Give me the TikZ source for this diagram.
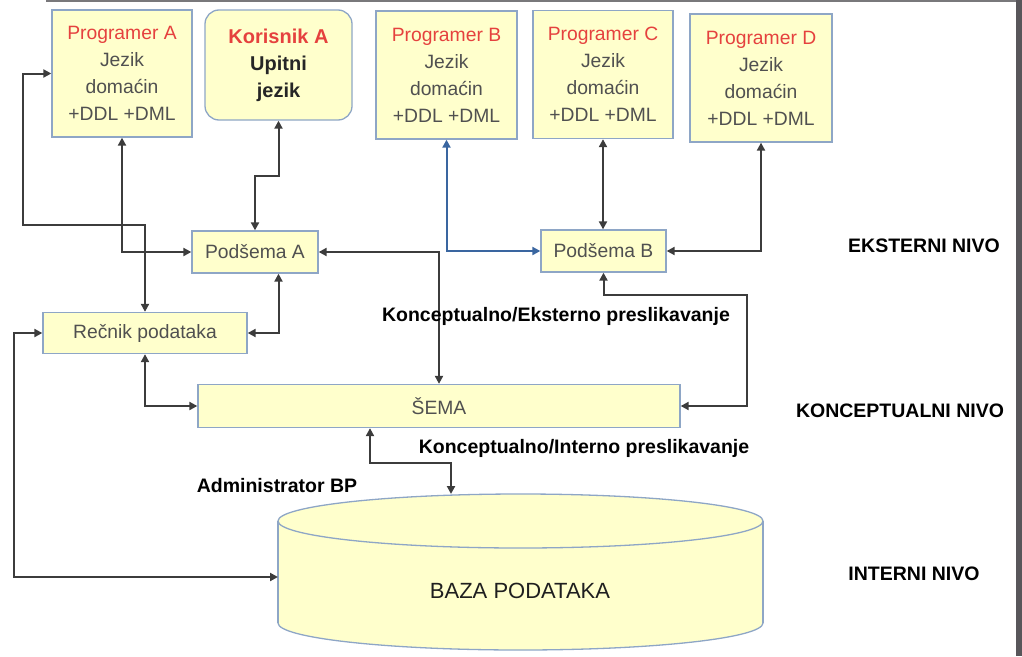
\documentclass[tikz,border=0pt]{standalone}
\usepackage{fontspec}
\setmainfont{Liberation Sans}
\usetikzlibrary{arrows.meta,calc}
\definecolor{boxfill}{HTML}{FFFFCC}
\definecolor{boxline}{HTML}{8EA6C6}
\definecolor{linegray}{HTML}{3C3C3C}
\definecolor{txtgray}{HTML}{505050}
\definecolor{progred}{HTML}{E5413E}
\definecolor{bluelink}{HTML}{3A66A0}
\definecolor{framegray}{HTML}{58565A}

\begin{document}
\begin{tikzpicture}[x=1pt,y=-1pt,
    box/.style={draw=boxline,fill=boxfill,line width=1.3pt,align=center,inner sep=0pt,
      text=txtgray,font=\fontsize{19.3}{27}\selectfont},
    conn/.style={draw=linegray,line width=2pt,
      {Triangle[length=8pt,width=8pt]}-{Triangle[length=8pt,width=8pt]}},
    connblue/.style={conn,draw=bluelink},
    lvl/.style={font=\bfseries\fontsize{19.5}{22}\selectfont,text=black,inner sep=0pt}]
                    \useasboundingbox (0,0) rectangle (1022,656);
                    \draw[framegray!80,line width=1.5pt] (46,0.75) -- (1022,0.75);
                    \fill[framegray] (1016,0) rectangle (1022,656);

                    % eksterni nivo
                    \node[box,minimum width=140pt,minimum height=127pt] (progA) at (122,73.5)
                        {\textcolor{progred}{Programer A}\\Jezik\\domaćin\\+DDL +DML};
                    \node[box,rounded corners=14pt,minimum width=147pt,minimum height=110pt,
                        text=black!85,font=\bfseries\fontsize{20}{27}\selectfont] (korA) at (278.5,65)
                        {\textcolor{progred}{Korisnik A}\\Upitni\\jezik};
                    \node[box,minimum width=141pt,minimum height=128pt] (progB) at (446.5,75)
                        {\textcolor{progred}{Programer B}\\Jezik\\domaćin\\+DDL +DML};
                    \node[box,minimum width=140pt,minimum height=128pt] (progC) at (603,74.5)
                        {\textcolor{progred}{Programer C}\\Jezik\\domaćin\\+DDL +DML};
                    \node[box,minimum width=142pt,minimum height=128pt] (progD) at (761,78)
                        {\textcolor{progred}{Programer D}\\Jezik\\domaćin\\+DDL +DML};

                    \node[box,minimum width=126pt,minimum height=42pt] (podA) at (255,252) {Podšema A};
                    \node[box,minimum width=125pt,minimum height=42pt] (podB) at (603.5,251) {Podšema B};
                    \node[box,minimum width=204pt,minimum height=41pt] (rec) at (145,333) {Rečnik podataka};

                    % konceptualni nivo
                    \node[box,minimum width=482pt,minimum height=43pt] (sema) at (439,406) {ŠEMA};

                    % interni nivo (baza)
                    \fill[boxfill] (278,521) rectangle (763,623);
                    \fill[boxfill] (520.5,623) ellipse [x radius=242.5, y radius=27];
                    \begin{scope}
                        \clip (270,623) rectangle (770,660);
                        \draw[boxline,line width=1.3pt] (520.5,623) ellipse [x radius=242.5, y radius=27];
                    \end{scope}
                    \draw[boxline,line width=1.3pt] (278,521) -- (278,623) (763,521) -- (763,623);
                    \draw[boxline,fill=boxfill,line width=1.3pt] (520.5,521) ellipse [x radius=242.5, y radius=27];
                    \coordinate (dbtop) at (451,494);
                    \coordinate (dbleft) at (278,577);
                    \node[font=\fontsize{22}{24}\selectfont,text=black!88] (baza) at (520,591) {BAZA PODATAKA};

                    % veze
                    \draw[conn] (rec.north) |- (23,225) |- (progA.west);
                    \draw[conn] (progA.south) |- (podA.west);
                    \draw[conn] (korA.south) -- ++(0,55) -| (podA.north);
                    \draw[conn] (podA.south -| korA.south) |- (rec.east);
                    \draw[conn] (podA.east) -| (sema.north);
                    \draw[connblue] (progB.south) |- (podB.west);
                    \draw[conn] (progC.south) -- (podB.north -| progC.south);
                    \draw[conn] (progD.south) |- (podB.east);
                    \draw[conn] (podB.south) -- ++(0,22) -| (747,406) -- (sema.east);
                    \draw[conn] (rec.south) |- (sema.west);
                    \draw[conn] ($(sema.south)+(-69,0)$) -- ++(0,35) -| (dbtop);
                    \draw[conn] (rec.west) -- ++(-28,0) |- (dbleft);

                    % natpisi
                    \node[lvl] (ekst) at (924,246) {EKSTERNI NIVO};
                    \node[lvl] (konc) at (900,411) {KONCEPTUALNI NIVO};
                    \node[lvl] (inter) at (914,574) {INTERNI NIVO};
                    \node[lvl] (kemap) at (556,316) {Konceptualno/Eksterno preslikavanje};
                    \node[lvl] (kimap) at (584,448) {Konceptualno/Interno preslikavanje};
                    \node[lvl] (admin) at (277,486) {Administrator BP};

                \end{tikzpicture}
\end{document}
